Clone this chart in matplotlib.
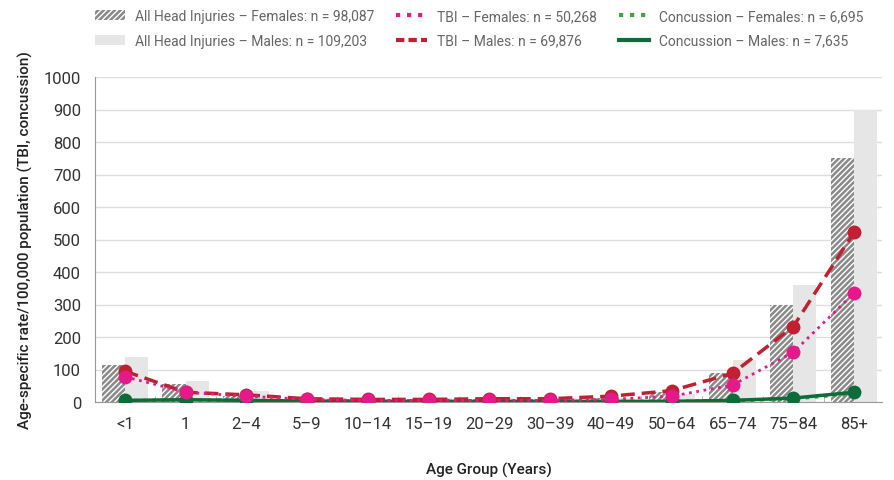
import matplotlib.pyplot as plt
import numpy as np
from matplotlib.patches import Patch
from matplotlib.lines import Line2D

plt.rcParams['font.family'] = ['Roboto', 'DejaVu Sans']
plt.rcParams['hatch.linewidth'] = 1.0

ages = ['<1', '1', '2–4', '5–9', '10–14', '15–19', '20–29', '30–39',
        '40–49', '50–64', '65–74', '75–84', '85+']

all_f = [115, 55, 20, 10, 8, 8, 10, 9, 12, 30, 88, 297, 752]
all_m = [140, 65, 35, 12, 10, 12, 12, 10, 12, 25, 130, 360, 900]
tbi_f = [78, 30, 18, 8, 5, 5, 5, 5, 8, 18, 52, 153, 335]
tbi_m = [95, 30, 22, 10, 8, 8, 10, 10, 18, 35, 88, 232, 522]
conc_f = [4, 6, 5, 3, 2, 2, 2, 2, 2, 2, 4, 10, 25]
conc_m = [5, 7, 5, 3, 2, 2, 2, 2, 2, 2, 5, 12, 30]

labels = ['All Head Injuries – Females: n = 98,087',
          'All Head Injuries – Males: n = 109,203',
          'TBI – Females: n = 50,268',
          'TBI – Males: n = 69,876',
          'Concussion – Females: n = 6,695',
          'Concussion – Males: n = 7,635']

x = np.arange(len(ages))
w = 0.38

fig = plt.figure(figsize=(8.94, 4.81), dpi=100)
ax = fig.add_axes([95/894, 1-403/481, (882-95)/894, (403-78)/481])

ax.bar(x - w/2, all_f, w, color='#8a8a8a', edgecolor='white', hatch='//////', linewidth=0, zorder=2)
ax.bar(x + w/2, all_m, w, color='#e6e6e7', linewidth=0, zorder=2)

ax.plot(x, conc_f, color='#3aaa35', ls=':', lw=2.5, zorder=3)
ax.plot(x, conc_m, color='#0e6b3a', ls='-', lw=2.5, marker='o', ms=9, zorder=4)
ax.plot(x, tbi_m, color='#c0202f', ls=(0, (4, 2)), lw=2.5, marker='o', ms=9, zorder=5)
ax.plot(x, tbi_f, color='#e6198a', ls=':', lw=2, marker='o', ms=9, zorder=6)

ax.set_ylim(0, 1000)
ax.set_xlim(-0.49, 12.46)
ax.set_yticks(range(0, 1001, 100))
ax.set_xticks(x)
ax.set_xticklabels(ages)
ax.set_xticks(x[:-1] + 0.5, minor=True)
ax.tick_params(axis='x', which='major', length=0, pad=10, labelsize=12, colors='#333333')
ax.tick_params(axis='x', which='minor', length=4, direction='in', color='#aaaaaa')
ax.tick_params(axis='y', length=0, pad=10, labelsize=12, colors='#333333')
ax.grid(axis='y', color='#dddddd', lw=1, zorder=0)
ax.set_axisbelow(True)
for s in ['top', 'right']:
    ax.spines[s].set_visible(False)
for s in ['left', 'bottom']:
    ax.spines[s].set_color('#999999')

ax.set_ylabel('Age-specific rate/100,000 population (TBI, concussion)', fontsize=11,
              fontweight='medium', color='#222222', labelpad=8)
ax.set_xlabel('Age Group (Years)', fontsize=11, fontweight='medium', color='#222222', labelpad=22)

handles = [Patch(facecolor='#8a8a8a', edgecolor='white', hatch='//////', lw=0),
           Patch(facecolor='#e6e6e7', lw=0),
           Line2D([], [], color='#e6198a', ls=':', lw=3),
           Line2D([], [], color='#c0202f', ls=(0, (2, 1)), lw=3),
           Line2D([], [], color='#3aaa35', ls=':', lw=3),
           Line2D([], [], color='#0e6b3a', ls='-', lw=3)]
fig.legend(handles, labels, loc='upper left', bbox_to_anchor=(82/894, 1.005), ncol=3,
           frameon=False, fontsize=10, labelcolor='#666666', handlelength=2.2,
           columnspacing=1.6, handletextpad=0.7, labelspacing=0.75)

fig.savefig('out.png', dpi=100)
